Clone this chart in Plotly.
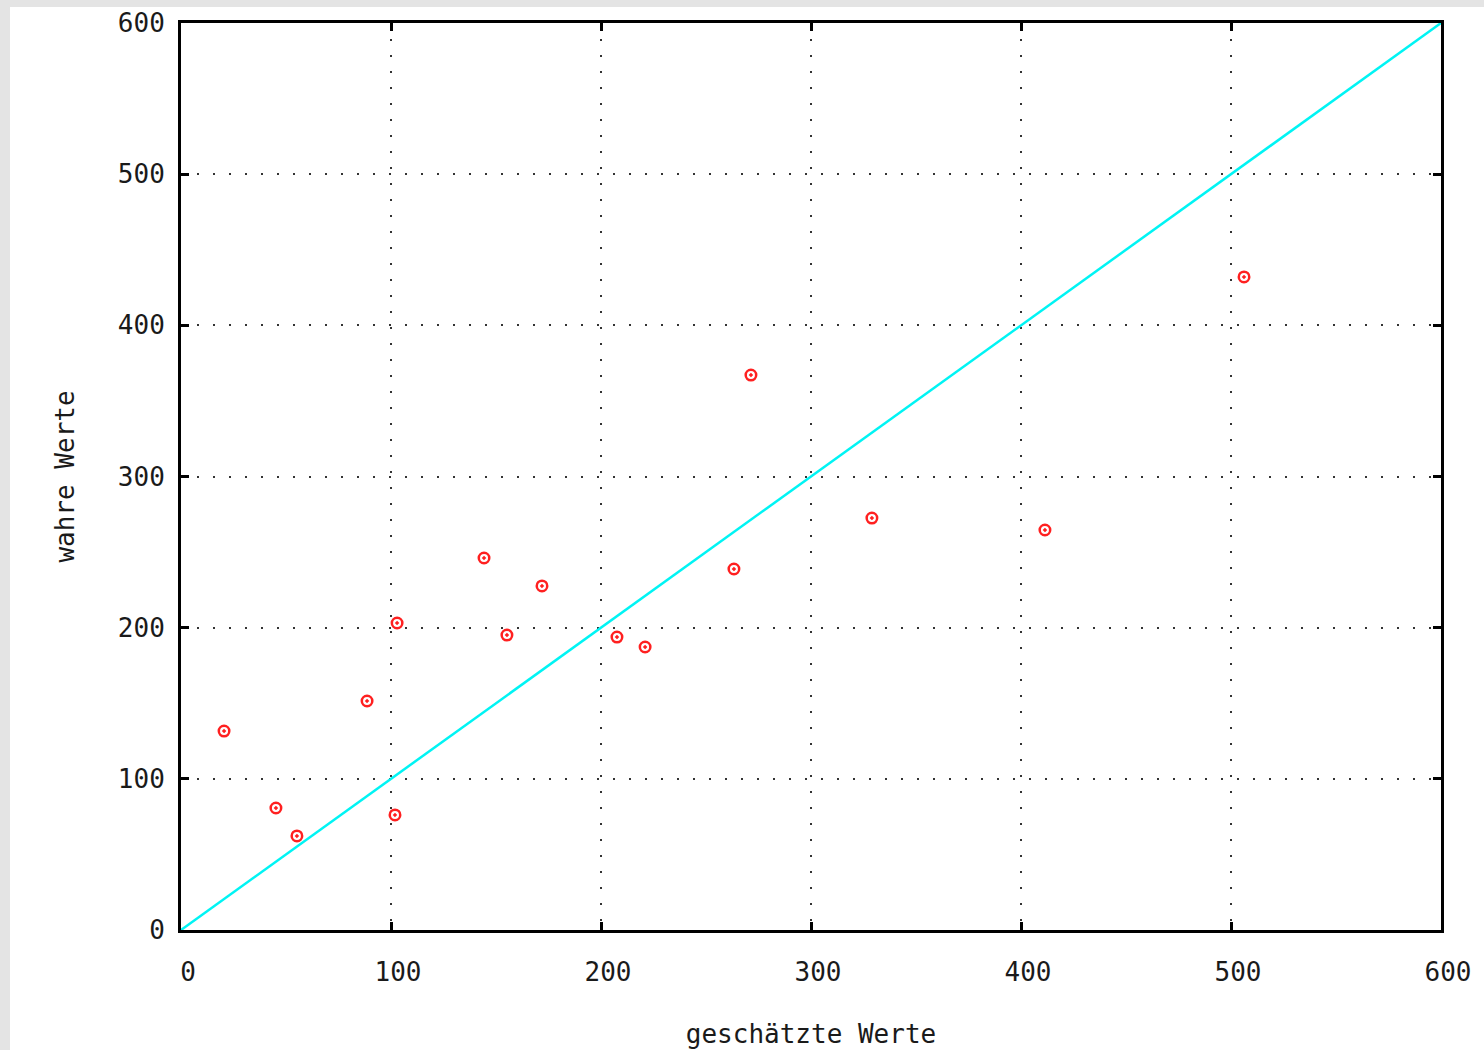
import plotly.graph_objects as go

# Data
geschaetzt = [20.5, 45.2, 55.2, 88.6, 101.9, 102.9, 144.3, 155.2, 171.9, 207.6, 221.0, 263.3, 271.4, 329.0, 411.4, 506.2]
wahr = [131.6, 80.7, 62.2, 151.5, 76.1, 203.1, 246.1, 195.1, 227.6, 193.8, 187.2, 238.8, 367.1, 272.5, 264.6, 432.0]
diag_x = [0, 600]
diag_y = [0, 600]
tick_vals = [0, 100, 200, 300, 400, 500, 600]
tick_text = ["0", "100", "200", "300", "400", "500", "600"]

W, H = 1484, 1050
L, R, T, B = 181, 43, 23, 120
pw, ph = W - L - R, H - T - B

fig = go.Figure()
fig.add_trace(go.Scatter(x=diag_x, y=diag_y, mode="lines",
                         line=dict(color="#00f4f4", width=2.5), showlegend=False))
fig.add_trace(go.Scatter(x=geschaetzt, y=wahr, mode="markers",
                         marker=dict(symbol="circle-open-dot", size=10.5, color="#ff2020",
                                     line=dict(width=2.5, color="#ff2020")),
                         showlegend=False))

# white sheet over the grey marble border
fig.add_shape(type="rect", xref="paper", yref="paper", layer="below",
              x0=(10 - L) / pw, x1=(W - L + 5) / pw,
              y0=-(B + 5) / ph, y1=(H - B - 7) / ph,
              fillcolor="white", line=dict(width=0))

font = dict(family="DejaVu Sans Mono", size=26, color="#1a1a1a")
axis_common = dict(
    range=[0, 600], tickvals=tick_vals, ticktext=tick_text,
    showline=True, linecolor="black", linewidth=3, mirror="ticks",
    ticks="inside", ticklen=8, tickwidth=3, tickcolor="black",
    showgrid=True, gridcolor="#333333", gridwidth=2, griddash="2px,14px",
    zeroline=False, tickfont=font, fixedrange=True,
)
fig.update_xaxes(**axis_common, ticklabelstandoff=17, ticklabelshift=7,
                 title=dict(text="geschätzte Werte", font=font, standoff=39))
fig.update_yaxes(**axis_common, ticklabelstandoff=8,
                 title=dict(text="wahre Werte", font=font, standoff=36))

fig.update_layout(
    width=W, height=H, margin=dict(l=L, r=R, t=T, b=B, autoexpand=False),
    paper_bgcolor="#e4e4e4", plot_bgcolor="white",
)
fig.write_html("out.html", config={"displayModeBar": False},
               post_script="document.body.style.margin='0';document.body.style.overflow='hidden';")
